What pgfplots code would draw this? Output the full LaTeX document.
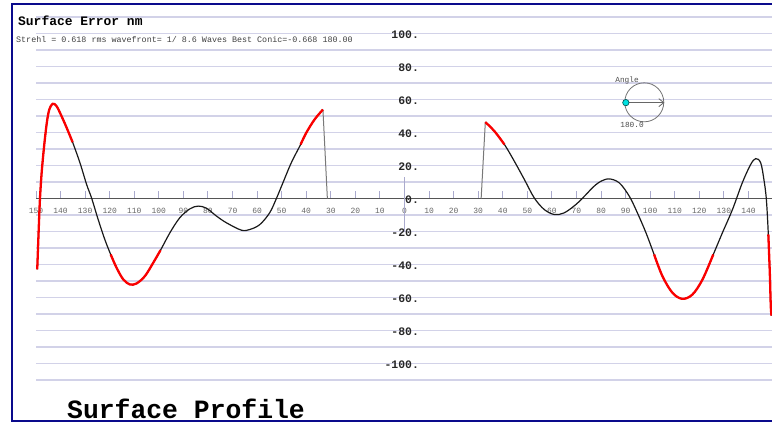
\documentclass[border=0pt]{standalone}
\usepackage{pgfplots}
\pgfplotsset{compat=1.18}
\usetikzlibrary{arrows.meta}
\usepackage{fontspec}
\setmainfont{Liberation Serif}
\newfontfamily\mono{Liberation Mono}
\definecolor{framecol}{RGB}{10,10,140}
\definecolor{gridcol}{RGB}{210,210,232}
\definecolor{tickcol}{RGB}{170,170,205}
\definecolor{axcol}{RGB}{85,85,85}
\definecolor{curvecol}{RGB}{25,25,25}
\definecolor{redc}{RGB}{250,0,0}
\definecolor{dotcyan}{RGB}{0,225,225}
\definecolor{connc}{RGB}{120,120,120}
\begin{document}
\begin{tikzpicture}[x=1bp,y=1bp]
\useasboundingbox (0,0) rectangle (772,423);
\begin{axis}[
  at={(36bp,43bp)}, anchor=south west,
  scale only axis, width=736bp, height=363bp,
  xmin=-150, xmax=149.6, ymin=-110, ymax=110,
  axis lines=center,
  axis line style={-},
  x axis line style={draw=axcol, line width=1.4bp},
  y axis line style={draw=none},
  hide obscured x ticks=false, hide obscured y ticks=false,
  xtick={-150,-140,...,140},
  xticklabels={150,140,130,120,110,100,90,80,70,60,50,40,30,20,10,0,10,20,30,40,50,60,70,80,90,100,110,120,130,140},
  ytick={-110,-100,...,110},
  yticklabels={,-100.,,-80.,,-60.,,-40.,,-20.,,0.,,20.,,40.,,60.,,80.,,100.,},
  ymajorgrids,
  grid style={gridcol, line width=1.3bp},
  xtick style={draw=tickcol, line width=1bp},
  ytick style={draw=none},
  major tick length=7bp,
  tick align=inside,
  xticklabel style={font=\mono\fontsize{8}{9}\selectfont, text=black!60, anchor=north, yshift=-6bp},
  yticklabel style={font=\mono\bfseries\fontsize{11.5}{12}\selectfont, text=black!85, anchor=east, xshift=18bp, yshift=-1bp},
  clip=false,
]
% short vertical axis piece at the centre
\draw[tickcol, line width=1bp] (axis cs:0,13) -- (axis cs:0,-20.5);
% angle widget
\draw[black!55, line width=0.8bp] (axis cs:97.6,58.3) circle[radius=19.5bp];
\draw[black!60, line width=0.8bp, -{Straight Barb[length=5bp,width=8bp]}] (axis cs:90.1,58.1) -- (axis cs:105.8,58.1);
\addplot[only marks, mark=*, mark size=3.2bp, mark options={fill=dotcyan, draw=teal!60!black, line width=0.6bp}] coordinates {(90.1,58.1)};
% connectors at the central hole
\addplot[connc, line width=1bp] coordinates {(-33.2,53.9) (-31.4,0)};
\addplot[connc, line width=1bp] coordinates {(31.2,0) (32.9,46.3)};
% left branch
\addplot[curvecol, line width=1.2bp, smooth, tension=0.55] coordinates {
(-149.5,-43) (-148.9,-18.8) (-148.4,-0.6) (-147.7,15.6) (-146.7,31.7) (-145.6,45.9) (-144.6,53.9) (-143.2,57.4) (-141.6,55.9) (-139.6,49.9) (-137.5,42.8) (-135.1,34.1) (-132.1,21.6) (-129.4,8.5) (-127.4,0.4) (-124.7,-12.7) (-122,-24.8) (-119.6,-33.9) (-117.2,-42) (-114.5,-49) (-111.8,-52.1) (-109.1,-51.5) (-105.7,-47.1) (-102.3,-39) (-99.3,-31.3) (-95.5,-20.8) (-91.5,-11.7) (-87.4,-6.3) (-84,-4.6) (-80.6,-5.9) (-76.5,-10.7) (-72.5,-14.7) (-66.4,-19.2) (-63,-18.8) (-58.9,-15.8) (-54.9,-8.7) (-52.2,-0.2) (-49.5,9.5) (-46.1,21.6) (-42.3,32.7) (-40,39.8) (-36.6,47.9) (-33.2,53.9)
};
% right branch
\addplot[curvecol, line width=1.2bp, smooth, tension=0.55] coordinates {
(32.9,46.3) (36.6,40.8) (40.7,32.7) (44.7,22.6) (48.8,11.5) (52.8,0.4) (56.9,-6.7) (61,-9.7) (65,-8.7) (69.8,-3.6) (73.9,2.4) (76.5,6.5) (79.3,9.9) (83.1,11.9) (87.4,9.5) (91.5,1.4) (94.8,-8.7) (98.3,-20.8) (101.6,-33.9) (105,-47.1) (109.1,-57.2) (113.1,-60.8) (117.2,-58.2) (121.3,-49.1) (125.7,-33.9) (129.4,-20.8) (133.5,-6.7) (137.5,9.5) (140.9,20.6) (143,24.2) (145,21.6) (146.3,11.5) (147.3,-0.6) (148.1,-21.8) (148.7,-45) (149.1,-65.3) (149.4,-71)
};
% red segments
\addplot[redc, line width=2.3bp, smooth, tension=0.55] coordinates {
(-149.5,-43) (-148.9,-18.8) (-148.4,-0.6) (-147.7,15.6) (-146.7,31.7) (-145.6,45.9) (-144.6,53.9) (-143.2,57.4) (-141.6,55.9) (-139.6,49.9) (-137.5,42.8) (-135.1,34.1)
};
\addplot[redc, line width=2.3bp, smooth, tension=0.55] coordinates {
(-119.6,-33.9) (-117.2,-42) (-114.5,-49) (-111.8,-52.1) (-109.1,-51.5) (-105.7,-47.1) (-102.3,-39) (-99.3,-31.3)
};
\addplot[redc, line width=2.3bp, smooth, tension=0.55] coordinates {
(-42.3,32.7) (-40,39.8) (-36.6,47.9) (-33.2,53.9)
};
\addplot[redc, line width=2.3bp, smooth, tension=0.55] coordinates {
(32.9,46.3) (36.6,40.8) (40.7,32.7)
};
\addplot[redc, line width=2.3bp, smooth, tension=0.55] coordinates {
(101.6,-33.9) (105,-47.1) (109.1,-57.2) (113.1,-60.8) (117.2,-58.2) (121.3,-49.1) (125.7,-33.9)
};
\addplot[redc, line width=2.3bp, smooth, tension=0.55] coordinates {
(148.1,-21.8) (148.7,-45) (149.1,-65.3) (149.4,-71)
};
\end{axis}
% frame and texts
\draw[framecol, line width=2.5bp] (12,2) rectangle (800,419);
\node[anchor=west, inner sep=0] at (18,402.5) {\mono\bfseries\fontsize{13}{14}\selectfont Surface Error nm};
\node[anchor=west, inner sep=0, text=black!75] at (16,383.5) {\mono\fontsize{8.4}{9}\selectfont Strehl = 0.618 rms wavefront= 1/ 8.6 Waves Best Conic=-0.668 180.00};
\node[anchor=base west, inner sep=0] at (67,5) {\mono\bfseries\fontsize{26.5}{28}\selectfont Surface Profile};
\node[inner sep=0, text=black!70] at (627,342.5) {\mono\fontsize{7.8}{8}\selectfont Angle};
\node[inner sep=0, text=black!70] at (632,298) {\mono\fontsize{7.8}{8}\selectfont 180.0};
\end{tikzpicture}
\end{document}
